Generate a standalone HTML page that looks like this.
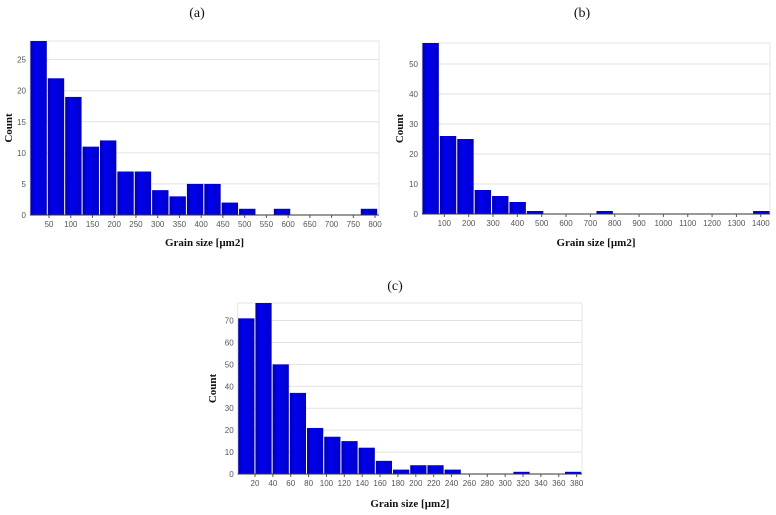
<!DOCTYPE html>
<html><head><meta charset="utf-8"><style>
html,body{margin:0;padding:0;background:#fff;width:776px;height:515px;overflow:hidden}
svg{display:block}
.tick{font-family:"Liberation Sans",sans-serif;font-size:8px;fill:#555}
.ax{font-family:"Liberation Serif",serif;font-size:11px;font-weight:bold;fill:#111}
.ttl{font-family:"Liberation Serif",serif;font-size:14px;fill:#111}
</style></head><body>
<svg id="s" width="776" height="515">
<defs><linearGradient id="g" x1="0" x2="1"><stop offset="0" stop-color="#0000a8"/><stop offset="0.3" stop-color="#0000f0"/><stop offset="1" stop-color="#0000c8"/></linearGradient></defs>
<text class="ttl" x="197" y="17" text-anchor="middle">(a)</text>
<text class="ttl" x="582" y="17" text-anchor="middle">(b)</text>
<text class="ttl" x="395" y="290" text-anchor="middle">(c)</text>
</svg>
<script>
const countsA=[28,22,19,11,12,7,7,4,3,5,5,2,1,0,1,0,0,0,0,1];
const binStartA=6, binWidthA=40;
const xTicksA=[50,100,150,200,250,300,350,400,450,500,550,600,650,700,750,800];
const yTicksA=[0,5,10,15,20,25];
const countsB=[57,26,25,8,6,4,1,0,0,0,1,0,0,0,0,0,0,0,0,1];
const binStartB=8, binWidthB=71.5;
const xTicksB=[100,200,300,400,500,600,700,800,900,1000,1100,1200,1300,1400];
const yTicksB=[0,10,20,30,40,50];
const countsC=[71,78,50,37,21,17,15,12,6,2,4,4,2,0,0,0,1,0,0,1];
const binStartC=0.7, binWidthC=19.25;
const xTicksC=[20,40,60,80,100,120,140,160,180,200,220,240,260,280,300,320,340,360,380];
const yTicksC=[0,10,20,30,40,50,60,70];
const NS='http://www.w3.org/2000/svg', svg=document.getElementById('s');
function mk(t,a,p){const e=document.createElementNS(NS,t);for(const k in a)e.setAttribute(k,a[k]);(p||svg).appendChild(e);return e;}
function chart(id,L,R,T,B,counts,bs,bw,xt,yt,x0,pxPerUnit,labelX,titleY){
  const g=mk('g',{});
  
  
  const ymax=Math.max(...counts);
  const y=v=>B-(v/ymax)*(B-T);
  const x=v=>x0+v*pxPerUnit;
  const bg=mk('rect',{x:L,y:T,width:R-L,height:B-T,fill:'#fff',stroke:'#e4e4e4'},g);
  
  
  yt.forEach(v=>{
    const l=mk('line',{x1:L,x2:R,y1:y(v),y2:y(v),stroke:'#e2e2e2'},g);
    
    
    const t=mk('text',{x:L-4,y:y(v)+3,'text-anchor':'end',class:'tick'},g);t.textContent=v;
    
    
  });
  counts.forEach((c,i)=>{
    if(!c)return;
    const xa=x(bs+i*bw),xb=x(bs+(i+1)*bw);
    const r=mk('rect',{x:xa+0.5,y:y(c),width:xb-xa-1,height:B-y(c),fill:'url(#g)'},g);
    
    
  });
  mk('line',{x1:L,x2:R,y1:B,y2:B,stroke:'#333'},g);
  xt.forEach(v=>{
    mk('line',{x1:x(v),x2:x(v),y1:B,y2:B+3,stroke:'#555'},g);
    const t=mk('text',{x:x(v),y:B+12,'text-anchor':'middle',class:'tick'},g);t.textContent=v;
    
    
  });
  const yl=mk('text',{x:labelX,y:(T+B)/2,'text-anchor':'middle',class:'ax',transform:`rotate(-90 ${labelX} ${(T+B)/2})`},g);yl.textContent='Count';
  
  
  const xl=mk('text',{x:(L+R)/2,y:titleY,'text-anchor':'middle',class:'ax'},g);xl.textContent='Grain size [µm2]';
  
  
}
chart('a',30,379,41,215,countsA,binStartA,binWidthA,xTicksA,yTicksA,27.3,0.4347,12,246);
chart('b',422,770,43,214,countsB,binStartB,binWidthB,xTicksB,yTicksB,420,0.2434,403,246);
chart('c',237.7,582,303,474,countsC,binStartC,binWidthC,xTicksC,yTicksC,237.1,0.8935,216,507);
</script>
</body></html>
